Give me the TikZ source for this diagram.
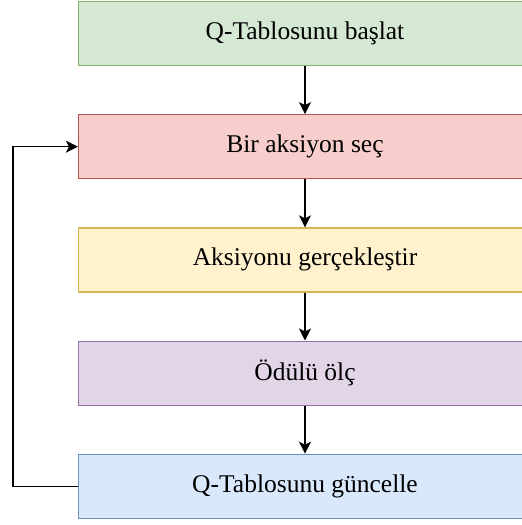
\documentclass[tikz,border=0pt]{standalone}
\usepackage{fontspec}
\setmainfont{Liberation Serif}
\usepackage{xcolor}
\usetikzlibrary{positioning,arrows.meta}
\definecolor{qgreenfill}{HTML}{D5E8D4}
\definecolor{qgreenline}{HTML}{82B366}
\definecolor{qredfill}{HTML}{F8CECC}
\definecolor{qredline}{HTML}{B85450}
\definecolor{qyellowfill}{HTML}{FFF2CC}
\definecolor{qyellowline}{HTML}{D6B656}
\definecolor{qpurplefill}{HTML}{E1D5E7}
\definecolor{qpurpleline}{HTML}{9673A6}
\definecolor{qbluefill}{HTML}{DAE8FC}
\definecolor{qblueline}{HTML}{6C8EBF}

\begin{document}
\begin{tikzpicture}[
  x=1pt,y=1pt,
  stage/.style={draw,line width=1.2pt,minimum height=64pt,minimum width=453pt,font=\fontsize{25.5}{30}\selectfont},
  arr/.style={-{Stealth[length=12pt,width=12pt,inset=3pt]},line width=1.2pt,black}
]
\useasboundingbox (0,0) rectangle (522,-525);
\node[stage,fill=qgreenfill,draw=qgreenline] (init) at (305,-33.5) {Q-Tablosunu başlat};
\node[stage,fill=qredfill,draw=qredline,below=48pt of init] (pick) {Bir aksiyon seç};
\node[stage,fill=qyellowfill,draw=qyellowline,below=48pt of pick] (run) {Aksiyonu gerçekleştir};
\node[stage,fill=qpurplefill,draw=qpurpleline,below=48pt of run] (reward) {Ödülü ölç};
\node[stage,fill=qbluefill,draw=qblueline,below=48pt of reward] (update) {Q-Tablosunu güncelle};

\draw[arr] (init) -- (pick);
\draw[arr] (pick) -- (run);
\draw[arr] (run) -- (reward);
\draw[arr] (reward) -- (update);
\draw[arr] (update.west) -- ++(-65,0) |- (pick.west);
\end{tikzpicture}
\end{document}
